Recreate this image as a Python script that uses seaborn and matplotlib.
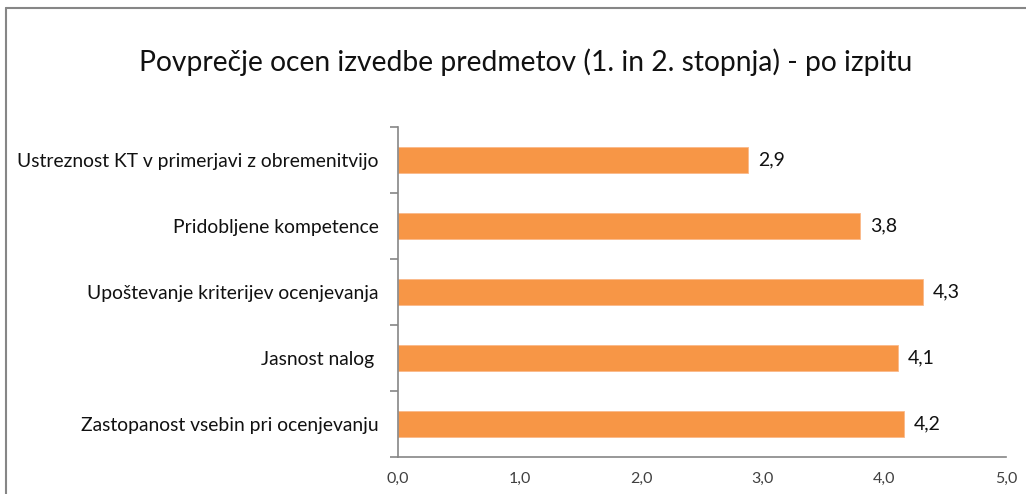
import matplotlib
matplotlib.use("Agg")
import matplotlib.pyplot as plt
import seaborn as sns
import pandas as pd
from matplotlib.lines import Line2D
from matplotlib.ticker import FixedLocator

categories = [
    "Ustreznost KT v primerjavi z obremenitvijo",
    "Pridobljene kompetence",
    "Upoštevanje kriterijev ocenjevanja",
    "Jasnost nalog ",
    "Zastopanost vsebin pri ocenjevanju",
]
values = [2.88, 3.80, 4.32, 4.11, 4.16]
x_ticks = [0, 1, 2, 3, 4, 5]
title = "Povprečje ocen izvedbe predmetov (1. in 2. stopnja) - po izpitu"

df = pd.DataFrame({"kategorija": categories, "ocena": values})

sns.set_theme(style="white")
plt.rcParams["font.family"] = ["Lato", "DejaVu Sans"]

grey = "#868686"
orange = "#F79646"

fig = plt.figure(figsize=(10.26, 4.94), dpi=100)
ax = fig.add_axes([398 / 1026, 1 - 457 / 494, 608 / 1026, 330 / 494])

sns.barplot(data=df, x="ocena", y="kategorija", orient="h", color=orange,
            width=0.4, edgecolor="#FAB98A", linewidth=0.6, saturation=1, ax=ax)

for i, v in enumerate(values):
    ax.text(v + 0.08, i, f"{v:.1f}".replace(".", ","), va="center", ha="left",
            fontsize=14, color="#111111")

ax.set_xlim(0, 5)
ax.set_ylim(4.5, -0.5)
ax.set_xticks(x_ticks)
ax.set_xticklabels([f"{t:.1f}".replace(".", ",") for t in x_ticks],
                   fontsize=11.5, color="#404040")
ax.tick_params(axis="x", length=5, width=1.2, color=grey, direction="out", pad=6)
ax.tick_params(axis="y", which="major", length=0, pad=14, labelsize=13.9, labelcolor="#111111")
ax.yaxis.set_minor_locator(FixedLocator([-0.5, 0.5, 1.5, 2.5, 3.5, 4.5]))
ax.tick_params(axis="y", which="minor", length=6, width=1.2, color=grey, left=True)
ax.set_xlabel("")
ax.set_ylabel("")

for side in ["top", "right"]:
    ax.spines[side].set_visible(False)
for side in ["left", "bottom"]:
    ax.spines[side].set_color(grey)
    ax.spines[side].set_linewidth(1.2)

fig.text(526 / 1026, 1 - 62 / 494, title, ha="center", va="center", fontsize=20.3, color="#111111")

# outer chart border (cropped on right and bottom)
fig.add_artist(Line2D([6 / 1026, 6 / 1026], [0, 1 - 8 / 494], color=grey, lw=1.5))
fig.add_artist(Line2D([6 / 1026, 1], [1 - 8 / 494, 1 - 8 / 494], color=grey, lw=1.5))

fig.savefig("out.png", dpi=100, facecolor="white")
